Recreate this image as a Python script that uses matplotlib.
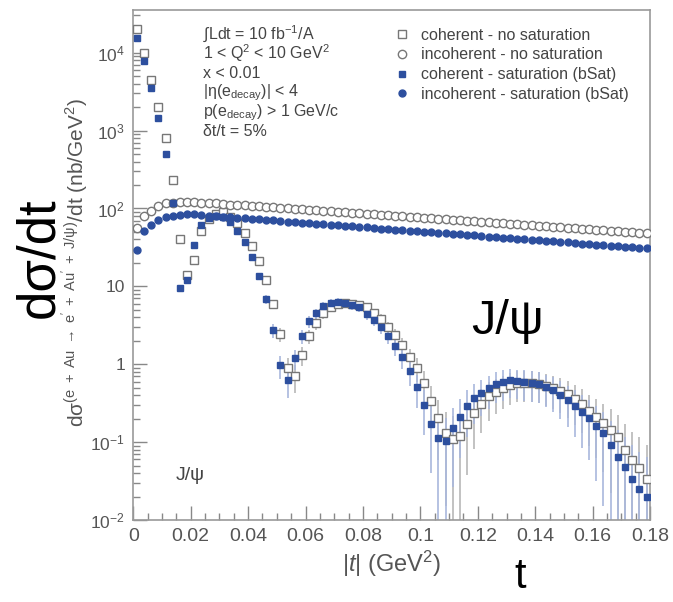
import numpy as np
import matplotlib.pyplot as plt
from matplotlib.ticker import LogLocator, MultipleLocator, NullFormatter

plt.rcParams['font.family'] = ['Liberation Sans', 'DejaVu Sans']
plt.rcParams['mathtext.fontset'] = 'custom'
plt.rcParams['mathtext.rm'] = 'Liberation Sans'
plt.rcParams['mathtext.it'] = 'Liberation Sans:italic'
plt.rcParams['mathtext.sf'] = 'Liberation Sans'

# |t| binning (GeV^2)
bin_width = 0.0025
n_bins = 72
t = (np.arange(n_bins) + 0.5) * bin_width

# coherent - no saturation (open squares)
coh_nosat = [20000, 10000, 4400, 2030, 813, 229, 41, 13.8, 21.5, 51,
             74, 86, 89, 76.7, 64.2, 47.8, 32.6, 20.9, 11.9, 5.88,
             2.42, 0.889, 0.702, 1.30, 2.29, 3.36, 4.51, 5.38, 5.88, 6.05,
             5.88, 5.71, 5.38, 4.51, 3.78, 2.98, 2.35, 1.75, 1.23, 0.889,
             0.570, 0.336, 0.203, 0.130, 0.109, 0.119, 0.170, 0.236, 0.307, 0.389,
             0.437, 0.492, 0.538, 0.570, 0.570, 0.570, 0.555, 0.522, 0.492, 0.451,
             0.412, 0.356, 0.307, 0.249, 0.210, 0.175, 0.143, 0.116, 0.0789, 0.0588,
             0.0464, 0.0336]
coh_nosat_err = [45, 32, 21, 14, 9.1, 4.8, 2.0, 1.2, 1.5, 2.3,
                 2.8, 3.0, 3.0, 2.8, 2.6, 2.2, 1.8, 1.46, 1.1, 0.78,
                 0.50, 0.30, 0.27, 0.36, 0.48, 0.59, 0.68, 0.74, 0.78, 0.79,
                 0.78, 0.76, 0.74, 0.68, 0.62, 0.55, 0.49, 0.42, 0.35, 0.30,
                 0.24, 0.185, 0.144, 0.115, 0.106, 0.110, 0.132, 0.155, 0.177, 0.20,
                 0.21, 0.224, 0.235, 0.242, 0.242, 0.242, 0.238, 0.231, 0.224, 0.215,
                 0.205, 0.19, 0.177, 0.16, 0.147, 0.134, 0.121, 0.109, 0.090, 0.078,
                 0.069, 0.059]

# incoherent - no saturation (open circles)
incoh_nosat = [56, 81, 94, 106, 116, 119, 121, 122, 121, 119,
               117.5, 115.8, 114.1, 112.4, 110.8, 109.2, 107.6, 106.0, 104.5, 103.0,
               101.5, 100.0, 98.5, 97.1, 95.7, 94.3, 92.9, 91.5, 90.2, 88.9,
               87.6, 86.3, 85.0, 83.8, 82.6, 81.4, 80.2, 79.0, 77.9, 76.7,
               75.6, 74.5, 73.4, 72.3, 71.3, 70.2, 69.2, 68.2, 67.2, 66.2,
               65.3, 64.3, 63.4, 62.4, 61.5, 60.6, 59.7, 58.9, 58.0, 57.2,
               56.3, 55.5, 54.7, 53.9, 53.1, 52.3, 51.6, 50.8, 50.1, 49.3,
               48.6, 47.9]

# coherent - saturation (bSat) (filled squares)
coh_sat = [15600, 7890, 3560, 1470, 507, 116, 9.42, 11.9, 33.5, 60.5,
           74.5, 78.9, 76.7, 66.2, 50.7, 36.6, 23.5, 13.4, 6.81, 2.73,
           0.97, 0.624, 1.19, 2.29, 3.56, 4.51, 5.54, 6.05, 6.23, 6.05,
           5.71, 5.38, 4.38, 3.67, 2.98, 2.29, 1.70, 1.23, 0.813, 0.507,
           0.298, 0.170, 0.112, 0.103, 0.151, 0.210, 0.290, 0.366, 0.425, 0.492,
           0.555, 0.588, 0.624, 0.606, 0.588, 0.570, 0.555, 0.507, 0.464, 0.401,
           0.345, 0.290, 0.243, 0.203, 0.160, 0.130, 0.0917, 0.0643, 0.0477, 0.0336,
           0.0249, 0.0197]
coh_sat_err = [40, 28, 19, 12, 7.2, 3.4, 0.98, 1.1, 1.85, 2.5,
               2.8, 2.8, 2.8, 2.6, 2.3, 1.9, 1.55, 1.17, 0.84, 0.53,
               0.32, 0.25, 0.35, 0.48, 0.60, 0.68, 0.75, 0.79, 0.80, 0.79,
               0.76, 0.74, 0.67, 0.61, 0.55, 0.48, 0.42, 0.35, 0.29, 0.23,
               0.175, 0.13, 0.107, 0.103, 0.124, 0.147, 0.172, 0.194, 0.209, 0.224,
               0.238, 0.245, 0.253, 0.249, 0.245, 0.242, 0.238, 0.228, 0.218, 0.203,
               0.188, 0.172, 0.158, 0.144, 0.128, 0.115, 0.097, 0.081, 0.070, 0.059,
               0.050, 0.045]

# incoherent - saturation (bSat) (filled circles)
incoh_sat = [29, 51, 62, 72, 77, 81, 83, 84, 83.7, 82.4,
             81.1, 79.8, 78.5, 77.3, 76.1, 74.9, 73.7, 72.5, 71.4, 70.2,
             69.1, 68.0, 67.0, 65.9, 64.9, 63.8, 62.8, 61.8, 60.9, 59.9,
             59.0, 58.0, 57.1, 56.2, 55.3, 54.5, 53.6, 52.8, 51.9, 51.1,
             50.3, 49.5, 48.7, 48.0, 47.2, 46.5, 45.7, 45.0, 44.3, 43.6,
             42.9, 42.2, 41.6, 40.9, 40.3, 39.6, 39.0, 38.4, 37.8, 37.2,
             36.6, 36.0, 35.5, 34.9, 34.4, 33.8, 33.3, 32.8, 32.2, 31.7,
             31.2, 30.7]

labels = ['coherent - no saturation', 'incoherent - no saturation',
          'coherent - saturation (bSat)', 'incoherent - saturation (bSat)']

cuts = [u'\u222bLdt = 10 fb$^{-1}$/A',
        '1 < Q$^{2}$ < 10 GeV$^{2}$',
        'x < 0.01',
        u'|\u03b7(e$_{\\mathrm{decay}}$)| < 4',
        'p(e$_{\\mathrm{decay}}$) > 1 GeV/c',
        u'\u03b4t/t = 5%']

x_ticks = [0, 0.02, 0.04, 0.06, 0.08, 0.1, 0.12, 0.14, 0.16, 0.18]
x_ticklabels = ['0', '0.02', '0.04', '0.06', '0.08', '0.1', '0.12', '0.14', '0.16', '0.18']
y_ticks = [1e-2, 1e-1, 1, 10, 1e2, 1e3, 1e4]
y_ticklabels = ['$10^{-2}$', '$10^{-1}$', '1', '10', '$10^{2}$', '$10^{3}$', '$10^{4}$']

blue = '#2d4f9e'
grey = '#777777'

fig = plt.figure(figsize=(6.73, 6.02), dpi=100)
ax = fig.add_axes([0.198, 0.136, 0.768, 0.847])
ax.set_yscale('log')

ax.errorbar(t, coh_nosat, yerr=coh_nosat_err, fmt='none', ecolor='#b8b8b8',
            elinewidth=1.2, zorder=1)
ax.errorbar(t, coh_sat, yerr=coh_sat_err, fmt='none', ecolor='#a9b7dd',
            elinewidth=1.2, zorder=1)

ax.plot(t, coh_nosat, ls='none', marker='s', ms=6, mfc='white', mec=grey, mew=1.0,
        label=labels[0], zorder=3)
ax.plot(t, incoh_nosat, ls='none', marker='o', ms=6, mfc='white', mec=grey, mew=1.0,
        label=labels[1], zorder=3)
ax.plot(t, coh_sat, ls='none', marker='s', ms=5, mfc=blue, mec=blue,
        label=labels[2], zorder=4)
ax.plot(t, incoh_sat, ls='none', marker='o', ms=5, mfc=blue, mec=blue,
        label=labels[3], zorder=4)

ax.set_xlim(0, 0.18)
ax.set_ylim(1e-2, 3.5e4)

ax.set_xticks(x_ticks)
ax.set_xticklabels(x_ticklabels)
ax.xaxis.set_minor_locator(MultipleLocator(0.005))
ax.set_yticks(y_ticks)
ax.set_yticklabels(y_ticklabels)
ax.yaxis.set_minor_locator(LogLocator(base=10, subs=np.arange(2, 10)))
ax.yaxis.set_minor_formatter(NullFormatter())

ax.tick_params(which='both', direction='in', color='#888888', labelcolor='#555555',
               top=False, right=False)
ax.tick_params(axis='x', labelsize=14, pad=6)
ax.tick_params(axis='y', labelsize=12.5, pad=6)
ax.tick_params(which='major', length=10, width=1.0)
ax.tick_params(which='minor', length=5, width=1.0)
for s in ax.spines.values():
    s.set_color('#999999')
    s.set_linewidth(1.2)

leg = ax.legend(loc='upper left', bbox_to_anchor=(0.505, 0.966), frameon=False,
                fontsize=11.5, handlelength=1.0, handletextpad=0.7, labelspacing=0.3,
                borderpad=0, borderaxespad=0)
for txt in leg.get_texts():
    txt.set_color('#444444')

for i, line in enumerate(cuts):
    fig.text(203 / 673, 1 - (34 + 19.6 * i) / 602, line, fontsize=11.5, color='#444444',
             ha='left', va='center')

fig.text(76 / 673, 1 - 262 / 602,
         u'd\u03c3$^{(\\mathrm{e\\ +\\ Au\\ \\rightarrow\\ e\'\\ +\\ Au\'\\ +\\ J/\u03c8})}$/dt (nb/GeV$^{2}$)',
         rotation=90, ha='center', va='center', fontsize=15, color='#555555')
fig.text(392 / 673, 1 - 564 / 602, '|$t$| (GeV$^{2}$)', fontsize=17,
         color='#555555', ha='center', va='center')
fig.text(190 / 673, 1 - 476 / 602, u'J/\u03c8', fontsize=14, color='#444444',
         ha='center', va='center')

# large annotations
fig.text(39 / 673, 1 - 258 / 602, u'd\u03c3/dt', rotation=90, fontsize=38,
         color='black', ha='center', va='center')
fig.text(508 / 673, 1 - 322 / 602, u'J/\u03c8', fontsize=35, color='black',
         ha='center', va='center')
fig.text(520 / 673, 1 - 577 / 602, 't', fontsize=30, color='black',
         ha='center', va='center')

fig.savefig('out.png', dpi=100)
